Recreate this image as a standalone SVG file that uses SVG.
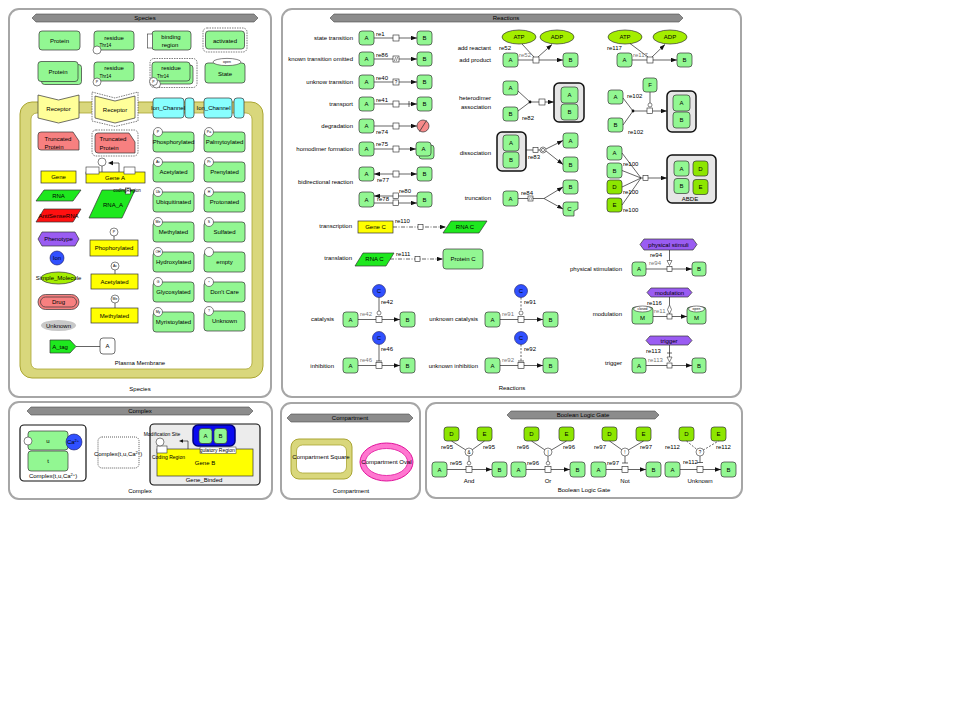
<svg xmlns="http://www.w3.org/2000/svg" width="960" height="720" viewBox="0 0 960 720">
<style>
text{font-family:"Liberation Sans",Arial,sans-serif;font-size:6px;fill:#000}
.m{text-anchor:middle}
.e{text-anchor:end}
.g{fill:#777}
.t5{font-size:5px}
.t4{font-size:4.5px}
.t3{font-size:3.5px}
.pn{fill:#fff;stroke:#a6a6a6;stroke-width:2}
.bn{fill:#8c8c8c;stroke:#4a4a4a;stroke-width:0.6}
.pr{fill:#92f792;stroke:#333;stroke-width:0.7}
.lm{fill:#8de600;stroke:#333;stroke-width:0.7}
.ye{fill:#ffff00;stroke:#333;stroke-width:0.7}
.rn{fill:#1ee81e;stroke:#333;stroke-width:0.7}
.rd{fill:#ff1010;stroke:#333;stroke-width:0.7}
.tr{fill:#f78080;stroke:#333;stroke-width:0.7}
.ic{fill:#88ffff;stroke:#333;stroke-width:0.7}
.rc{fill:#ffff99;stroke:#333;stroke-width:0.7}
.cx{fill:#e6e6e6;stroke:#111;stroke-width:1.5}
.ln{fill:none;stroke:#222;stroke-width:0.7}
.dl{fill:none;stroke:#222;stroke-width:0.7;stroke-dasharray:2,1.5}
.dd{fill:none;stroke:#222;stroke-width:0.7;stroke-dasharray:4,1.5,1,1.5}
.sq{fill:#fff;stroke:#222;stroke-width:0.6}
.bl{fill:#3050ff;stroke:#1a1a60;stroke-width:0.6}
.ph{fill:#9a5cf2;stroke:#333;stroke-width:0.7}
.wc{fill:#fff;stroke:#333;stroke-width:0.6}
.act{fill:#fff;stroke:#444;stroke-width:0.7;stroke-dasharray:1.5,1}
.ge{fill:#ececec;stroke:#111;stroke-width:1.2}
.mem{fill:#d9d77c;stroke:#aaa532;stroke-width:1}
.sm{fill:#a4ee00;stroke:#333;stroke-width:0.7}
</style>
<defs>
<marker id="ar" viewBox="0 0 6 4.4" refX="6" refY="2.2" markerWidth="6" markerHeight="4.4" markerUnits="userSpaceOnUse" orient="auto-start-reverse"><path d="M0,0 L6,2.2 L0,4.4z" fill="#111"/></marker>
<clipPath id="regclip"><rect x="200" y="447" width="36" height="6.5"/></clipPath>
</defs>

<!-- ===== PANELS ===== -->
<g id="panel-species">
<rect class="pn" x="9" y="9" width="262" height="388" rx="10"/>
<polygon class="bn" points="32,18 36,14 254,14 258,18 254,22 36,22"/>
<text class="m" x="145" y="20.2">Species</text>
<text class="m" x="140" y="391">Species</text>
</g>
<g id="panel-reactions">
<rect class="pn" x="282" y="9" width="459" height="388" rx="10"/>
<polygon class="bn" points="330,18 334,14 679,14 683,18 679,22 334,22"/>
<text class="m" x="506" y="20.2">Reactions</text>
<text class="m" x="512" y="390">Reactions</text>
</g>
<g id="panel-complex">
<rect class="pn" x="9" y="402" width="263" height="97" rx="10"/>
<polygon class="bn" points="27,411 31,407 249,407 253,411 249,415 31,415"/>
<text class="m" x="140" y="413.2">Complex</text>
<text class="m" x="140" y="493">Complex</text>
</g>
<g id="panel-compartment">
<rect class="pn" x="281" y="403" width="139" height="96" rx="10"/>
<polygon class="bn" points="287,418 291,414 409,414 413,418 409,422 291,422"/>
<text class="m" x="350" y="420.2">Compartment</text>
<text class="m" x="351" y="493">Compartment</text>
</g>
<g id="panel-boolean">
<rect class="pn" x="426" y="403" width="316" height="95" rx="10"/>
<polygon class="bn" points="507,415 511,411 655,411 659,415 655,419 511,419"/>
<text class="m" x="583" y="417.2">Boolean Logic Gate</text>
<text class="m" x="584" y="492">Boolean Logic Gate</text>
</g>

<!-- ===== SPECIES ===== -->
<g id="plasma-membrane">
<rect class="mem" x="20" y="102" width="243" height="276" rx="12"/>
<rect x="31" y="113" width="221" height="256" rx="6" fill="#fff" stroke="#aaa532" stroke-width="0.8"/>
<text class="m" x="140" y="365">Plasma Membrane</text>
</g>
<g id="protein"><rect class="pr" x="39" y="31" width="41" height="19" rx="3"/><text class="m" x="59.5" y="42.5">Protein</text></g>
<g id="residue"><rect class="pr" x="94" y="31" width="40" height="19" rx="3"/><text class="m" x="114" y="39.5">residue</text><text class="t4" x="99.5" y="47">Thr14</text><circle class="wc" cx="97" cy="50" r="4"/></g>
<g id="binding-region"><rect class="pr" x="152" y="31" width="39" height="19" rx="3"/><rect class="wc" x="147.5" y="34" width="5" height="14"/><text class="m" x="171" y="38.5">binding</text><text class="m" x="170" y="47">region</text></g>
<g id="activated"><rect class="act" x="203" y="28" width="44" height="24" rx="4"/><rect class="pr" x="205.5" y="31" width="39" height="18" rx="3"/><text class="m" x="225" y="42.5">activated</text></g>

<g id="protein-multimer"><rect class="pr" x="41.5" y="64.5" width="40" height="20" rx="3"/><rect class="pr" x="38" y="61.5" width="40" height="20" rx="3"/><text class="m" x="58" y="74">Protein</text></g>
<g id="residue-p"><rect class="pr" x="94" y="62" width="40" height="19" rx="3"/><text class="m" x="114" y="70">residue</text><text class="t4" x="99.5" y="77.5">Thr14</text><circle class="wc" cx="97" cy="82" r="4"/><text class="m t3" x="97" y="83.3">P</text></g>
<g id="residue-multimer-active"><rect class="act" x="150" y="58.5" width="47" height="29" rx="4"/><rect class="pr" x="155" y="65" width="38" height="19" rx="3"/><rect class="pr" x="152" y="62" width="38" height="19" rx="3"/><text class="m" x="171" y="70">residue</text><text class="t4" x="157" y="77.5">Thr14</text><circle class="wc" cx="156.5" cy="84" r="4"/><circle class="wc" cx="153.5" cy="81.5" r="4"/><text class="m t3" x="153.5" y="82.8">P</text></g>
<g id="state"><rect class="pr" x="205" y="63" width="40" height="20" rx="3"/><ellipse class="wc" cx="227" cy="62" rx="14" ry="3.6"/><text class="m t3" x="227" y="63.2">open</text><text class="m" x="225" y="75.5">State</text></g>

<g id="receptor"><polygon class="rc" points="38,95 58.5,100 79,95 79,118 58.5,123 38,118"/><text class="m" x="58.5" y="110.5">Receptor</text></g>
<g id="receptor-active"><polygon class="act" points="92,92 115,98 138,92 138,121 115,126.5 92,121"/><polygon class="rc" points="95,96 115,101 135,96 135,118 115,123 95,118"/><text class="m" x="115" y="111.5">Receptor</text></g>
<g id="ion-channel"><rect class="ic" x="153" y="98" width="31" height="20" rx="3"/><rect class="ic" x="185" y="98" width="9" height="20" rx="3"/><text class="m" x="168" y="110">Ion_Channel</text></g>
<g id="ion-channel-open"><rect class="ic" x="204" y="98" width="28" height="20" rx="3"/><rect class="ic" x="234" y="98" width="10" height="20" rx="3"/><text class="m" x="213.5" y="110">Ion_Channel</text></g>

<g id="truncated-protein"><path class="tr" d="M41,132 H73 L79,141 V150 H41 Q38,150 38,147 V135 Q38,132 41,132Z"/><text class="m" x="58" y="140.5">Truncated</text><text class="m" x="54" y="148.5">Protein</text></g>
<g id="truncated-protein-active"><rect class="act" x="92" y="130" width="46" height="26" rx="4"/><path class="tr" d="M98,133 H129 L135,142 V153 H98 Q95,153 95,150 V136 Q95,133 98,133Z"/><text class="m" x="113" y="141">Truncated</text><text class="m" x="109" y="150">Protein</text></g>

<g id="gene"><rect class="ye" x="41" y="171" width="35" height="12"/><text class="m" x="58.5" y="179">Gene</text></g>
<g id="gene-a"><rect class="ye" x="86" y="172" width="59" height="11"/><rect class="wc" x="86" y="167" width="13" height="7"/><rect class="wc" x="124" y="167" width="11" height="7"/><line class="ln" x1="102" y1="166" x2="102" y2="172"/><circle class="wc" cx="102" cy="162" r="4"/><path class="ln" d="M119,172 V163 H113"/><path d="M108,163 L113,160.8 L113,165.2z" fill="#111"/><text class="m" x="115" y="180">Gene A</text></g>

<g id="rna"><polygon class="rn" points="44,190 81,190 73,201 36,201"/><text class="m" x="58.5" y="198">RNA</text></g>
<g id="antisense-rna"><polygon class="rd" points="44,209 81,209 73,222 36,222"/><text class="m" x="58.5" y="217.5">AntiSenseRNA</text></g>
<g id="rna-a"><polygon class="rn" points="102,190 135,190 122,218 89,218"/><rect class="wc" x="125.5" y="188" width="5" height="6"/><text class="m t4" x="127" y="191.5">codingRegion</text><text class="m" x="113" y="207">RNA_A</text></g>

<g id="phenotype"><polygon class="ph" points="38,239 42,232 75,232 79,239 75,246 42,246"/><text class="m" x="58.5" y="241">Phenotype</text></g>
<g id="gene-phophorylated"><line class="ln" x1="114" y1="236" x2="114" y2="240"/><circle class="wc" cx="114" cy="232" r="4"/><text class="m t3" x="114" y="233.2">P</text><rect class="ye" x="90" y="240" width="48" height="16"/><text class="m" x="114" y="250">Phophorylated</text></g>
<g id="ion"><circle class="bl" cx="57" cy="258" r="7"/><text class="m" x="57" y="260">Ion</text></g>
<g id="simple-molecule"><ellipse class="sm" cx="58.5" cy="278" rx="17.5" ry="6"/><text class="m" x="58.5" y="280">Simple_Molecule</text></g>
<g id="gene-acetylated"><line class="ln" x1="115" y1="270" x2="115" y2="274"/><circle class="wc" cx="115" cy="266" r="4"/><text class="m t3" x="115" y="267.2">Ac</text><rect class="ye" x="91" y="274" width="47" height="15"/><text class="m" x="114.5" y="284">Acetylated</text></g>
<g id="drug"><rect class="tr" x="38" y="294.5" width="41" height="15" rx="7.5"/><rect x="40.5" y="297" width="36" height="10" rx="5" fill="none" stroke="#333" stroke-width="0.7"/><text class="m" x="58.5" y="304">Drug</text></g>
<g id="gene-methylated"><line class="ln" x1="115" y1="303" x2="115" y2="308"/><circle class="wc" cx="115" cy="299" r="4"/><text class="m t3" x="115" y="300.2">Me</text><rect class="ye" x="91" y="308" width="47" height="15"/><text class="m" x="114.5" y="318">Methylated</text></g>
<g id="unknown"><ellipse cx="58.5" cy="325.5" rx="17.5" ry="5.5" fill="#c8c8c8"/><text class="m" x="58.5" y="327.5">Unknown</text></g>
<g id="a-tag"><polygon points="50,340 70,340 76,346.5 70,353 50,353" fill="#1ee81e" stroke="#333" stroke-width="0.7"/><text class="m" x="60" y="348.5">A_tag</text></g>
<g id="a-tagged"><rect x="100" y="338" width="15" height="16" rx="3" fill="#fff" stroke="#333" stroke-width="0.7"/><text class="m" x="107.5" y="348">A</text></g>

<g id="mod-phosphorylated"><rect class="pr" x="153" y="132" width="41" height="20" rx="3"/><circle class="wc" cx="158" cy="132" r="4.5"/><text class="m t3" x="158" y="133.2">P</text><text class="m" x="173.5" y="144">Phosphorylated</text></g>
<g id="mod-acetylated"><rect class="pr" x="153" y="162" width="41" height="20" rx="3"/><circle class="wc" cx="158" cy="162" r="4.5"/><text class="m t3" x="158" y="163.2">Ac</text><text class="m" x="173.5" y="174">Acetylated</text></g>
<g id="mod-ubiquitinated"><rect class="pr" x="153" y="192" width="41" height="20" rx="3"/><circle class="wc" cx="158" cy="192" r="4.5"/><text class="m t3" x="158" y="193.2">Ub</text><text class="m" x="173.5" y="204">Ubiquitinated</text></g>
<g id="mod-methylated"><rect class="pr" x="153" y="222" width="41" height="20" rx="3"/><circle class="wc" cx="158" cy="222" r="4.5"/><text class="m t3" x="158" y="223.2">Me</text><text class="m" x="173.5" y="234">Methylated</text></g>
<g id="mod-hydroxylated"><rect class="pr" x="153" y="252" width="41" height="20" rx="3"/><circle class="wc" cx="158" cy="252" r="4.5"/><text class="m t3" x="158" y="253.2">OH</text><text class="m" x="173.5" y="264">Hydroxylated</text></g>
<g id="mod-glycosylated"><rect class="pr" x="153" y="282" width="41" height="20" rx="3"/><circle class="wc" cx="158" cy="282" r="4.5"/><text class="m t3" x="158" y="283.2">G</text><text class="m" x="173.5" y="294">Glycosylated</text></g>
<g id="mod-myristoylated"><rect class="pr" x="153" y="312" width="41" height="20" rx="3"/><circle class="wc" cx="158" cy="312" r="4.5"/><text class="m t3" x="158" y="313.2">My</text><text class="m" x="173.5" y="324">Myristoylated</text></g>
<g id="mod-palmytoylated"><rect class="pr" x="204" y="132" width="41" height="20" rx="3"/><circle class="wc" cx="209" cy="132" r="4.5"/><text class="m t3" x="209" y="133.2">Pa</text><text class="m" x="224.5" y="144">Palmytoylated</text></g>
<g id="mod-prenylated"><rect class="pr" x="204" y="162" width="41" height="20" rx="3"/><circle class="wc" cx="209" cy="162" r="4.5"/><text class="m t3" x="209" y="163.2">Pr</text><text class="m" x="224.5" y="174">Prenylated</text></g>
<g id="mod-protonated"><rect class="pr" x="204" y="192" width="41" height="20" rx="3"/><circle class="wc" cx="209" cy="192" r="4.5"/><text class="m t3" x="209" y="193.2">H</text><text class="m" x="224.5" y="204">Protonated</text></g>
<g id="mod-sulfated"><rect class="pr" x="204" y="222" width="41" height="20" rx="3"/><circle class="wc" cx="209" cy="222" r="4.5"/><text class="m t3" x="209" y="223.2">S</text><text class="m" x="224.5" y="234">Sulfated</text></g>
<g id="mod-empty"><rect class="pr" x="204" y="252" width="41" height="20" rx="3"/><circle class="wc" cx="209" cy="252" r="4.5"/><text class="m" x="224.5" y="264">empty</text></g>
<g id="mod-dontcare"><rect class="pr" x="204" y="282" width="41" height="20" rx="3"/><circle class="wc" cx="209" cy="282" r="4.5"/><text class="m t3" x="209" y="284">*</text><text class="m" x="224.5" y="294">Don't Care</text></g>
<g id="mod-unknown"><rect class="pr" x="204" y="311" width="41" height="20" rx="3"/><circle class="wc" cx="209" cy="311" r="4.5"/><text class="m t3" x="209" y="312.2">?</text><text class="m" x="224.5" y="323">Unknown</text></g>

<!-- ===== REACTION LABELS ===== -->
<g id="reaction-type-labels">
<text class="e" x="353" y="40">state transition</text>
<text class="e" x="353" y="61">known transition omitted</text>
<text class="e" x="353" y="84">unknow transition</text>
<text class="e" x="353" y="106">transport</text>
<text class="e" x="353" y="128">degradation</text>
<text class="e" x="353" y="151">homodimer formation</text>
<text class="e" x="353" y="184">bidirectional reaction</text>
<text class="e" x="352" y="228">transcription</text>
<text class="e" x="352" y="260">translation</text>
<text class="e" x="334" y="321">catalysis</text>
<text class="e" x="334" y="367.5">inhibition</text>
<text class="e" x="478" y="321">unknown catalysis</text>
<text class="e" x="478" y="367.5">unknown inhibition</text>
<text class="e" x="491" y="49.5">add reactant</text>
<text class="e" x="491" y="62">add product</text>
<text class="e" x="491" y="100">heterodimer</text>
<text class="e" x="491" y="109">association</text>
<text class="e" x="491" y="155">dissociation</text>
<text class="e" x="491" y="200">truncation</text>
<text class="e" x="622" y="271">physical stimulation</text>
<text class="e" x="622" y="316">modulation</text>
<text class="e" x="622" y="365">trigger</text>
</g>

<!-- ===== REACTION NODES (left column) ===== -->
<g id="st-a"><rect class="pr" x="359" y="31" width="15" height="14" rx="3"/><text class="m" x="366.5" y="40">A</text></g>
<g id="st-b"><rect class="pr" x="417" y="31" width="15" height="14" rx="3"/><text class="m" x="424.5" y="40">B</text></g>
<g id="kto-a"><rect class="pr" x="359" y="52" width="15" height="14" rx="3"/><text class="m" x="366.5" y="61">A</text></g>
<g id="kto-b"><rect class="pr" x="417" y="52" width="15" height="14" rx="3"/><text class="m" x="424.5" y="61">B</text></g>
<g id="ut-a"><rect class="pr" x="359" y="75" width="15" height="14" rx="3"/><text class="m" x="366.5" y="84">A</text></g>
<g id="ut-b"><rect class="pr" x="417" y="75" width="15" height="14" rx="3"/><text class="m" x="424.5" y="84">B</text></g>
<g id="tp-a"><rect class="pr" x="359" y="97" width="15" height="14" rx="3"/><text class="m" x="366.5" y="106">A</text></g>
<g id="tp-b"><rect class="pr" x="417" y="97" width="15" height="14" rx="3"/><text class="m" x="424.5" y="106">B</text></g>
<g id="dg-a"><rect class="pr" x="359" y="119" width="15" height="14" rx="3"/><text class="m" x="366.5" y="128">A</text></g>
<g id="dg-degraded"><circle cx="423" cy="126" r="6" fill="#f78a8a" stroke="#333" stroke-width="0.7"/><line x1="419.5" y1="131.5" x2="426.5" y2="120.5" stroke="#333" stroke-width="0.8"/></g>
<g id="hd-a"><rect class="pr" x="359" y="142" width="15" height="14" rx="3"/><text class="m" x="366.5" y="151">A</text></g>
<g id="hd-aa"><rect class="pr" x="419" y="145" width="15" height="14" rx="3"/><rect class="pr" x="416" y="142" width="15" height="14" rx="3"/><text class="m" x="423.5" y="151">A</text></g>
<g id="bd-a"><rect class="pr" x="359" y="167" width="15" height="14" rx="3"/><text class="m" x="366.5" y="176">A</text></g>
<g id="bd-b"><rect class="pr" x="417" y="167" width="15" height="14" rx="3"/><text class="m" x="424.5" y="176">B</text></g>
<g id="bd2-a"><rect class="pr" x="359" y="192" width="15" height="15" rx="3"/><text class="m" x="366.5" y="201.5">A</text></g>
<g id="bd2-b"><rect class="pr" x="417" y="192" width="15" height="15" rx="3"/><text class="m" x="424.5" y="201.5">B</text></g>
<g id="gene-c"><rect class="ye" x="358" y="221" width="35" height="12"/><text class="m" x="375.5" y="229">Gene C</text></g>
<g id="rna-c-1"><polygon class="rn" points="451,221 487,221 479,233 443,233"/><text class="m" x="465" y="229">RNA C</text></g>
<g id="rna-c-2"><polygon class="rn" points="363,253 394,253 386,266 355,266"/><text class="m" x="374.5" y="261">RNA C</text></g>
<g id="protein-c"><rect class="pr" x="443" y="249" width="40" height="20" rx="3"/><text class="m" x="463" y="261">Protein C</text></g>
<g id="cat-a"><rect class="pr" x="343" y="312" width="15" height="15" rx="3"/><text class="m" x="350.5" y="321.5">A</text></g>
<g id="cat-b"><rect class="pr" x="400" y="312" width="15" height="15" rx="3"/><text class="m" x="407.5" y="321.5">B</text></g>
<g id="cat-c"><circle class="bl" cx="379" cy="291" r="6.5"/><text class="m" x="379" y="293">C</text></g>
<g id="inh-a"><rect class="pr" x="343" y="358" width="15" height="15" rx="3"/><text class="m" x="350.5" y="367.5">A</text></g>
<g id="inh-b"><rect class="pr" x="400" y="358" width="15" height="15" rx="3"/><text class="m" x="407.5" y="367.5">B</text></g>
<g id="inh-c"><circle class="bl" cx="379" cy="338" r="6.5"/><text class="m" x="379" y="340">C</text></g>
<g id="ucat-a"><rect class="pr" x="485" y="312" width="15" height="15" rx="3"/><text class="m" x="492.5" y="321.5">A</text></g>
<g id="ucat-b"><rect class="pr" x="543" y="312" width="15" height="15" rx="3"/><text class="m" x="550.5" y="321.5">B</text></g>
<g id="ucat-c"><circle class="bl" cx="521" cy="291" r="6.5"/><text class="m" x="521" y="293">C</text></g>
<g id="uinh-a"><rect class="pr" x="485" y="358" width="15" height="15" rx="3"/><text class="m" x="492.5" y="367.5">A</text></g>
<g id="uinh-b"><rect class="pr" x="543" y="358" width="15" height="15" rx="3"/><text class="m" x="550.5" y="367.5">B</text></g>
<g id="uinh-c"><circle class="bl" cx="521" cy="338" r="6.5"/><text class="m" x="521" y="340">C</text></g>

<!-- ===== REACTION NODES (right) ===== -->
<g id="atp-1"><ellipse class="sm" cx="519" cy="37" rx="17" ry="7"/><text class="m" x="519" y="39">ATP</text></g>
<g id="adp-1"><ellipse class="sm" cx="557" cy="37" rx="17" ry="7"/><text class="m" x="557" y="39">ADP</text></g>
<g id="ar-a"><rect class="pr" x="503" y="53" width="15" height="14" rx="3"/><text class="m" x="510.5" y="62">A</text></g>
<g id="ar-b"><rect class="pr" x="563" y="53" width="15" height="14" rx="3"/><text class="m" x="570.5" y="62">B</text></g>
<g id="atp-2"><ellipse class="sm" cx="625" cy="37" rx="17" ry="7"/><text class="m" x="625" y="39">ATP</text></g>
<g id="adp-2"><ellipse class="sm" cx="670" cy="37" rx="17" ry="7"/><text class="m" x="670" y="39">ADP</text></g>
<g id="ar2-a"><rect class="pr" x="617" y="53" width="15" height="14" rx="3"/><text class="m" x="624.5" y="62">A</text></g>
<g id="ar2-b"><rect class="pr" x="677" y="53" width="15" height="14" rx="3"/><text class="m" x="684.5" y="62">B</text></g>

<g id="ha-a"><rect class="pr" x="503" y="81" width="15" height="14" rx="3"/><text class="m" x="510.5" y="90">A</text></g>
<g id="ha-b"><rect class="pr" x="503" y="107" width="15" height="14" rx="3"/><text class="m" x="510.5" y="116">B</text></g>
<g id="ha-complex"><rect class="cx" x="554" y="83" width="30" height="39" rx="5"/><rect class="pr" x="561" y="87" width="17" height="16" rx="3"/><text class="m" x="569.5" y="97">A</text><rect class="pr" x="561" y="104" width="17" height="16" rx="3"/><text class="m" x="569.5" y="114">B</text></g>
<g id="ha2-a"><rect class="pr" x="608" y="90" width="15" height="14" rx="3"/><text class="m" x="615.5" y="99">A</text></g>
<g id="ha2-b"><rect class="pr" x="608" y="118" width="15" height="14" rx="3"/><text class="m" x="615.5" y="127">B</text></g>
<g id="ha2-f"><rect class="pr" x="643" y="78" width="14" height="14" rx="3"/><text class="m" x="650" y="87">F</text></g>
<g id="ha2-complex"><rect class="cx" x="667" y="91" width="29" height="41" rx="5"/><rect class="pr" x="673" y="95" width="17" height="16" rx="3"/><text class="m" x="681.5" y="105">A</text><rect class="pr" x="673" y="112" width="17" height="16" rx="3"/><text class="m" x="681.5" y="122">B</text></g>

<g id="dis-complex"><rect class="cx" x="497" y="132" width="29" height="39" rx="5"/><rect class="pr" x="503" y="135" width="16" height="16" rx="3"/><text class="m" x="511" y="145">A</text><rect class="pr" x="503" y="152" width="16" height="16" rx="3"/><text class="m" x="511" y="162">B</text></g>
<g id="dis-a"><rect class="pr" x="563" y="133" width="15" height="15" rx="3"/><text class="m" x="570.5" y="142.5">A</text></g>
<g id="dis-b"><rect class="pr" x="563" y="157" width="15" height="15" rx="3"/><text class="m" x="570.5" y="166.5">B</text></g>
<g id="trunc-a"><rect class="pr" x="503" y="191" width="15" height="15" rx="3"/><text class="m" x="510.5" y="200.5">A</text></g>
<g id="trunc-b"><rect class="pr" x="563" y="180" width="15" height="14" rx="3"/><text class="m" x="570.5" y="189">B</text></g>
<g id="trunc-c"><path class="pr" d="M566,202 H578 V209 L574,211 V216 H566 Q563,216 563,213 V205 Q563,202 566,202Z"/><text class="m" x="569.5" y="211">C</text></g>

<g id="abde-a"><rect class="pr" x="607" y="146" width="15" height="14" rx="3"/><text class="m" x="614.5" y="155">A</text></g>
<g id="abde-b"><rect class="pr" x="607" y="163" width="15" height="15" rx="3"/><text class="m" x="614.5" y="172.5">B</text></g>
<g id="abde-d"><rect class="lm" x="607" y="180" width="15" height="14" rx="3"/><text class="m" x="614.5" y="189">D</text></g>
<g id="abde-e"><rect class="lm" x="607" y="198" width="15" height="14" rx="3"/><text class="m" x="614.5" y="207">E</text></g>
<g id="abde-complex"><rect class="cx" x="667" y="155" width="49" height="48" rx="5"/><rect class="pr" x="674" y="161" width="15" height="15" rx="3"/><text class="m" x="681.5" y="170.5">A</text><rect class="lm" x="693" y="161" width="15" height="15" rx="3"/><text class="m" x="700.5" y="170.5">D</text><rect class="pr" x="674" y="178.5" width="15" height="15" rx="3"/><text class="m" x="681.5" y="188">B</text><rect class="lm" x="693" y="179.5" width="15" height="15" rx="3"/><text class="m" x="700.5" y="189">E</text><text class="m" x="690" y="200.5">ABDE</text></g>

<g id="ps-stimuli"><polygon class="ph" points="640,244.5 644,239 693,239 697,244.5 693,250 644,250"/><text class="m" x="668.5" y="246.5">physical stimuli</text></g>
<g id="ps-a"><rect class="pr" x="632" y="262" width="14" height="14" rx="3"/><text class="m" x="639" y="271">A</text></g>
<g id="ps-b"><rect class="pr" x="692" y="262" width="14" height="14" rx="3"/><text class="m" x="699" y="271">B</text></g>
<g id="mod-modulation"><polygon class="ph" points="647,292.5 651,288 688,288 692,292.5 688,297 651,297"/><text class="m" x="669.5" y="294.5">modulation</text></g>
<g id="mod-m-closed"><rect class="pr" x="632" y="307" width="21" height="17" rx="3"/><ellipse class="wc" cx="642.5" cy="309" rx="9" ry="3"/><text class="m t3" x="642.5" y="310.2">closed</text><text class="m" x="642.5" y="320">M</text></g>
<g id="mod-m-open"><rect class="pr" x="687" y="307" width="19" height="17" rx="3"/><ellipse class="wc" cx="696.5" cy="309" rx="8" ry="3"/><text class="m t3" x="696.5" y="310.2">open</text><text class="m" x="696.5" y="320">M</text></g>
<g id="trg-trigger"><polygon class="ph" points="646,340.5 650,336 688,336 692,340.5 688,345 650,345"/><text class="m" x="669" y="342.5">trigger</text></g>
<g id="trg-a"><rect class="pr" x="632" y="358" width="14" height="15" rx="3"/><text class="m" x="639" y="367.5">A</text></g>
<g id="trg-b"><rect class="pr" x="692" y="358" width="14" height="15" rx="3"/><text class="m" x="699" y="367.5">B</text></g>

<!-- ===== COMPLEX PANEL ===== -->
<g id="complex-tuca">
<rect x="20" y="425" width="66" height="56" rx="4" fill="#fff" stroke="#111" stroke-width="1.2"/>
<rect class="pr" x="28" y="431" width="40" height="19" rx="3"/><text class="m" x="48" y="443">u</text>
<rect class="pr" x="28" y="451" width="40" height="20" rx="3"/><text class="m" x="48" y="463">t</text>
<circle class="wc" cx="28" cy="441" r="4"/>
<circle class="bl" cx="74" cy="442" r="8"/><text class="m" x="73" y="444">Ca<tspan font-size="4" dy="-2">2+</tspan></text>
<text class="m" x="53" y="477.5">Complex(t,u,Ca<tspan font-size="4" dy="-2">2+</tspan><tspan dy="2">)</tspan></text>
</g>
<g id="complex-tuca-hidden">
<rect x="98" y="437" width="41" height="31" rx="4" fill="#fff" stroke="#333" stroke-width="0.8" stroke-dasharray="1,1"/>
<text class="m" x="118" y="456">Complex(t,u,Ca<tspan font-size="4" dy="-2">2+</tspan><tspan dy="2">)</tspan></text>
</g>
<g id="gene-binded">
<rect class="ge" x="150" y="424" width="110" height="61" rx="4"/>
<rect class="ye" x="157" y="449" width="96" height="27"/>
<text class="m" x="205" y="465">Gene B</text>
<rect class="wc" x="157" y="446" width="10" height="7"/>
<circle class="wc" cx="160" cy="442" r="4"/>
<path class="ln" d="M188,449 V441 H183"/><path d="M179,441 L183,439.3 L183,442.7z" fill="#111"/>
<text class="m t5" x="162" y="436">Modification Site</text>
<text class="m t5" x="168.5" y="459">Coding Region</text>
<rect x="193" y="425" width="42" height="21" rx="5" fill="#0a0af0" stroke="#000080" stroke-width="1.5"/>
<rect class="pr" x="199" y="428.5" width="13" height="15" rx="3"/><text class="m" x="205.5" y="438">A</text>
<rect class="pr" x="214" y="428.5" width="13" height="15" rx="3"/><text class="m" x="220.5" y="438">B</text>
<rect x="200" y="447" width="36" height="6.5" fill="#fff" stroke="#333" stroke-width="0.5"/>
<text class="m t5" x="214" y="452.2" clip-path="url(#regclip)">Regulatory Region</text>
<text class="m" x="204" y="482">Gene_Binded</text>
</g>

<!-- ===== COMPARTMENT PANEL ===== -->
<g id="compartment-square">
<rect class="mem" x="291" y="439" width="61" height="40" rx="8"/>
<rect x="296.5" y="445" width="50" height="28" rx="6" fill="#fff" stroke="#aaa532" stroke-width="0.8"/>
<text class="m" x="321" y="459">Compartment Square</text>
</g>
<g id="compartment-oval">
<ellipse cx="386.5" cy="462" rx="26.5" ry="19" fill="#ff77d0" stroke="#e0109a" stroke-width="1"/>
<ellipse cx="386.5" cy="462" rx="21" ry="13.5" fill="#fff" stroke="#e0109a" stroke-width="0.8"/>
<text class="m" x="386.5" y="464">Compartment Oval</text>
</g>

<!-- ===== BOOLEAN NODES ===== -->
<g id="and-d"><rect class="lm" x="444" y="427" width="15" height="14" rx="3"/><text class="m" x="451.5" y="436">D</text></g>
<g id="and-e"><rect class="lm" x="477" y="427" width="15" height="14" rx="3"/><text class="m" x="484.5" y="436">E</text></g>
<g id="and-a"><rect class="pr" x="432" y="462" width="15" height="15" rx="3"/><text class="m" x="439.5" y="471.5">A</text></g>
<g id="and-b"><rect class="pr" x="492" y="462" width="15" height="15" rx="3"/><text class="m" x="499.5" y="471.5">B</text></g>
<g id="or-d"><rect class="lm" x="524" y="427" width="15" height="14" rx="3"/><text class="m" x="531.5" y="436">D</text></g>
<g id="or-e"><rect class="lm" x="559" y="427" width="15" height="14" rx="3"/><text class="m" x="566.5" y="436">E</text></g>
<g id="or-a"><rect class="pr" x="511" y="462" width="15" height="15" rx="3"/><text class="m" x="518.5" y="471.5">A</text></g>
<g id="or-b"><rect class="pr" x="570" y="462" width="15" height="15" rx="3"/><text class="m" x="577.5" y="471.5">B</text></g>
<g id="not-d"><rect class="lm" x="602" y="427" width="15" height="14" rx="3"/><text class="m" x="609.5" y="436">D</text></g>
<g id="not-e"><rect class="lm" x="636" y="427" width="15" height="14" rx="3"/><text class="m" x="643.5" y="436">E</text></g>
<g id="not-a"><rect class="pr" x="591" y="462" width="15" height="15" rx="3"/><text class="m" x="598.5" y="471.5">A</text></g>
<g id="not-b"><rect class="pr" x="646" y="462" width="15" height="15" rx="3"/><text class="m" x="653.5" y="471.5">B</text></g>
<g id="unk-d"><rect class="lm" x="679" y="427" width="15" height="14" rx="3"/><text class="m" x="686.5" y="436">D</text></g>
<g id="unk-e"><rect class="lm" x="711" y="427" width="15" height="14" rx="3"/><text class="m" x="718.5" y="436">E</text></g>
<g id="unk-a"><rect class="pr" x="665" y="462" width="15" height="15" rx="3"/><text class="m" x="672.5" y="471.5">A</text></g>
<g id="unk-b"><rect class="pr" x="721" y="462" width="15" height="15" rx="3"/><text class="m" x="728.5" y="471.5">B</text></g>

<!-- ===== CONNECTORS ===== -->
<g id="connectors">
<line class="ln" x1="76" y1="346.5" x2="100" y2="346.5"/>
<!-- re1 -->
<path class="ln" d="M374,38 H417" marker-end="url(#ar)"/>
<rect class="sq" x="393" y="35" width="6" height="6"/>
<text x="376" y="35.5">re1</text>
<!-- re86 -->
<path class="ln" d="M374,59 H417" marker-end="url(#ar)"/>
<rect class="sq" x="393" y="56" width="6" height="6"/>
<path d="M394.3,61 L395.8,57 M396.2,61 L397.7,57" stroke="#222" stroke-width="0.5"/>
<text x="376" y="56.5">re86</text>
<!-- re40 -->
<path class="ln" d="M374,82 H417" marker-end="url(#ar)"/>
<rect class="sq" x="393" y="79" width="6" height="6"/>
<text class="m t4" x="396" y="83.6">?</text>
<text x="376" y="79.5">re40</text>
<!-- re41 -->
<path class="ln" d="M374,104 H417" marker-end="url(#ar)"/>
<rect class="sq" x="393" y="101" width="6" height="6"/>
<path class="ln" d="M409,101 V107"/>
<text x="376" y="101.5">re41</text>
<!-- re74 -->
<path class="ln" d="M374,126 H417" marker-end="url(#ar)"/>
<rect class="sq" x="393" y="123" width="6" height="6"/>
<text x="376" y="133.5">re74</text>
<!-- re75 -->
<path class="ln" d="M374,149 H416" marker-end="url(#ar)"/>
<rect class="sq" x="393" y="146" width="6" height="6"/>
<text x="376" y="146">re75</text>
<!-- re77 -->
<path class="ln" d="M374,174 H417" marker-start="url(#ar)" marker-end="url(#ar)"/>
<rect class="sq" x="393" y="171" width="6" height="6"/>
<text x="377" y="181.5">re77</text>
<!-- re80 / re78 -->
<path class="ln" d="M417,196 H374" marker-end="url(#ar)"/>
<rect class="sq" x="393" y="193" width="5.5" height="5.5"/>
<path class="ln" d="M374,203 H417" marker-end="url(#ar)"/>
<rect class="sq" x="393" y="200" width="5.5" height="5.5"/>
<text x="399" y="192.5">re80</text>
<text x="377" y="201">re78</text>
<!-- re110 -->
<path class="dd" d="M393,227 H446" marker-end="url(#ar)"/>
<rect class="sq" x="418" y="224.5" width="5" height="5"/>
<text x="395" y="223">re110</text>
<!-- re111 -->
<path class="dd" d="M390,259 H443" marker-end="url(#ar)"/>
<rect class="sq" x="415" y="256.5" width="5" height="5"/>
<text x="396" y="256">re111</text>
<!-- re42 catalysis -->
<path class="ln" d="M358,319.5 H400" marker-end="url(#ar)"/>
<path class="ln" d="M379,297.5 V311"/>
<circle class="wc" cx="379" cy="313" r="2"/>
<rect class="sq" x="376" y="316.5" width="6" height="6"/>
<text x="381" y="304">re42</text>
<text class="g" x="360" y="316">re42</text>
<!-- re46 inhibition -->
<path class="ln" d="M358,365.5 H400" marker-end="url(#ar)"/>
<path class="ln" d="M379,344.5 V361 M376,361 H382"/>
<rect class="sq" x="376" y="362.5" width="6" height="6"/>
<text x="381" y="351">re46</text>
<text class="g" x="360" y="362">re46</text>
<!-- re91 unknown catalysis -->
<path class="ln" d="M500,319.5 H543" marker-end="url(#ar)"/>
<path class="dl" d="M521,297.5 V311"/>
<circle class="wc" cx="521" cy="313" r="2"/>
<rect class="sq" x="518" y="316.5" width="6" height="6"/>
<text x="524" y="304">re91</text>
<text class="g" x="502" y="316">re91</text>
<!-- re92 unknown inhibition -->
<path class="ln" d="M500,365.5 H543" marker-end="url(#ar)"/>
<path class="dl" d="M521,344.5 V361"/>
<path class="ln" d="M518,361 H524"/>
<rect class="sq" x="518" y="362.5" width="6" height="6"/>
<text x="524" y="351">re92</text>
<text class="g" x="502" y="362">re92</text>
<!-- re52 -->
<path class="ln" d="M518,60 H563" marker-end="url(#ar)"/>
<path class="ln" d="M522,44 L534,57"/>
<path class="ln" d="M538,57 L552,44.5" marker-end="url(#ar)"/>
<rect class="sq" x="533" y="57" width="6" height="6"/>
<text x="499" y="50">re52</text>
<text class="g" x="519" y="57">re52</text>
<!-- re117 -->
<path class="ln" d="M632,60 H677" marker-end="url(#ar)"/>
<path class="ln" d="M630,43.5 L648,57"/>
<path class="ln" d="M652,57 L665,44.5" marker-end="url(#ar)"/>
<rect class="sq" x="647" y="57" width="6" height="6"/>
<text x="607" y="50">re117</text>
<text class="g" x="633" y="57">re117</text>
<!-- re82 -->
<path class="ln" d="M518,91 L530,102 L518,111 M530,102 H554" marker-end="url(#ar)"/>
<circle cx="530" cy="102" r="1.4" fill="#111"/>
<rect class="sq" x="539" y="99" width="6" height="6"/>
<text x="522" y="120">re82</text>
<!-- re102 -->
<path class="ln" d="M623,98 L633,111 L623,125 M633,111 H667" marker-end="url(#ar)"/>
<circle cx="633" cy="111" r="1.4" fill="#111"/>
<path class="ln" d="M650,92 V103"/>
<circle class="wc" cx="650" cy="105" r="2"/>
<rect class="sq" x="647" y="108" width="5.5" height="5.5"/>
<text x="627" y="98">re102</text>
<text x="628" y="134">re102</text>
<!-- re83 -->
<path class="ln" d="M526,150 H540"/>
<path class="ln" d="M546,149 L563,140.5" marker-end="url(#ar)"/>
<path class="ln" d="M546,151 L563,164.5" marker-end="url(#ar)"/>
<rect class="sq" x="533" y="147.5" width="5" height="5"/>
<circle class="wc" cx="543" cy="150" r="3"/>
<circle class="wc" cx="543" cy="150" r="1.6"/>
<text x="528" y="159">re83</text>
<!-- re84 -->
<path class="ln" d="M518,198.5 H544"/>
<path class="ln" d="M544,198.5 L563,187" marker-end="url(#ar)"/>
<path class="ln" d="M544,198.5 L563,209" marker-end="url(#ar)"/>
<rect class="sq" x="528" y="196" width="5" height="5"/>
<path d="M529,200 L530.3,197 M531,200 L532.3,197" stroke="#222" stroke-width="0.4"/>
<text x="521" y="195">re84</text>
<!-- re100 -->
<path class="ln" d="M622,153 L641,178 M622,170.5 L641,178 M622,187 L641,178 M622,205 L641,178"/>
<path class="ln" d="M641,178 H667" marker-end="url(#ar)"/>
<rect class="sq" x="643" y="175.5" width="5" height="5"/>
<text x="623" y="166">re100</text>
<text x="623" y="194">re100</text>
<text x="623" y="212">re100</text>
<!-- re94 physical stimulation -->
<path class="ln" d="M646,269 H692" marker-end="url(#ar)"/>
<path class="ln" d="M669.5,250 V261"/>
<polygon class="wc" points="667,260.5 672,260.5 669.5,265.5"/>
<rect class="sq" x="667" y="266.5" width="5" height="5"/>
<text x="650" y="257">re94</text>
<text class="g" x="649" y="265">re94</text>
<!-- re116 modulation -->
<path class="ln" d="M653,316.5 H687" marker-end="url(#ar)"/>
<path class="ln" d="M669.5,297 V305"/>
<polygon class="wc" points="669.5,305 671.5,309.5 669.5,314 667.5,309.5"/>
<rect class="sq" x="667" y="314" width="5" height="5"/>
<text x="647" y="305">re116</text>
<text class="g" x="654" y="313">re11</text>
<!-- re113 trigger -->
<path class="ln" d="M646,365.5 H692" marker-end="url(#ar)"/>
<path class="ln" d="M669.5,345 V357 M667,353 H672"/>
<polygon class="wc" points="667,357 672,357 669.5,362"/>
<rect class="sq" x="667" y="363" width="5" height="5"/>
<text x="646" y="353">re113</text>
<text class="g" x="648" y="362">re113</text>
<!-- re95 AND -->
<path class="ln" d="M451.5,441 L469,452 L484.5,441 M469,456 V461.3"/>
<path class="ln" d="M447,469.5 H492" marker-end="url(#ar)"/>
<circle class="wc" cx="469" cy="452" r="4"/><text class="m t4" x="469" y="453.6">&amp;</text>
<circle class="wc" cx="469" cy="463.2" r="1.8"/>
<rect class="sq" x="466" y="466.5" width="6" height="6"/>
<text x="441" y="449">re95</text><text x="483" y="449">re95</text><text x="450" y="465">re95</text>
<text class="m" x="469" y="483">And</text>
<!-- re96 OR -->
<path class="ln" d="M531.5,441 L548,452 L566.5,441 M548,456 V461.3"/>
<path class="ln" d="M526,469.5 H570" marker-end="url(#ar)"/>
<circle class="wc" cx="548" cy="452" r="4"/><text class="m t4" x="548" y="453.6">|</text>
<circle class="wc" cx="548" cy="463.2" r="1.8"/>
<rect class="sq" x="545" y="466.5" width="6" height="6"/>
<text x="517" y="449">re96</text><text x="563" y="449">re96</text><text x="527" y="465">re96</text>
<text class="m" x="548" y="483">Or</text>
<!-- re97 NOT -->
<path class="ln" d="M609.5,441 L625,452 L643.5,441 M625,456 V463 M622,463 H628"/>
<path class="ln" d="M606,469.5 H646" marker-end="url(#ar)"/>
<circle class="wc" cx="625" cy="452" r="4"/><text class="m t4" x="625" y="453.6">!</text>
<rect class="sq" x="622" y="466.5" width="6" height="6"/>
<text x="594" y="449">re97</text><text x="640" y="449">re97</text><text x="607" y="465">re97</text>
<text class="m" x="625" y="483">Not</text>
<!-- re112 UNKNOWN -->
<path class="dl" d="M686.5,441 L700,452 L718.5,441"/>
<path class="ln" d="M700,456 V462.5 M697,462.5 H703"/>
<path class="ln" d="M680,469.5 H721" marker-end="url(#ar)"/>
<circle class="wc" cx="700" cy="452" r="4"/><text class="m t4" x="700" y="453.6">?</text>
<rect class="sq" x="697" y="466.5" width="6" height="6"/>
<text x="665" y="449">re112</text><text x="716" y="449">re112</text><text x="683" y="464">re112</text>
<text class="m" x="700" y="483">Unknown</text>
</g>
</svg>
